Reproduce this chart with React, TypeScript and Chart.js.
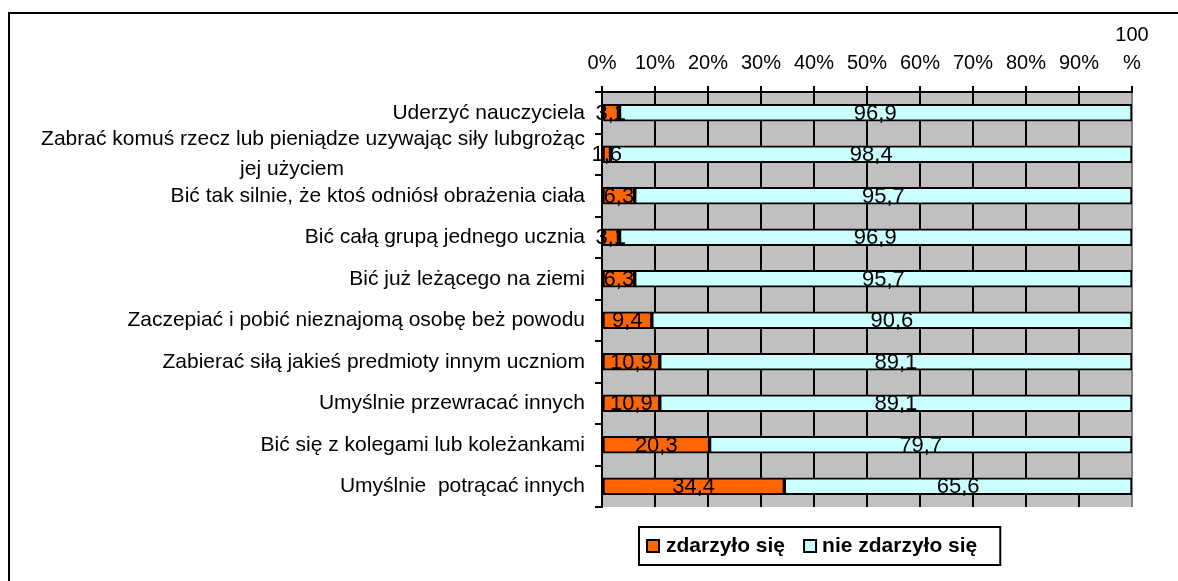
import React, { useEffect, useRef } from "react";
import { Chart, registerables } from "chart.js";

Chart.register(...registerables);

const categories: (string | string[])[] = [
  "Uderzyć nauczyciela",
  ["Zabrać komuś rzecz lub pieniądze uzywając siły lubgrożąc", "jej użyciem"],
  "Bić tak silnie, że ktoś odniósł obrażenia ciała",
  "Bić całą grupą jednego ucznia",
  "Bić już leżącego na ziemi",
  "Zaczepiać i pobić nieznajomą osobę beż powodu",
  "Zabierać siłą jakieś predmioty innym uczniom",
  "Umyślnie przewracać innych",
  "Bić się z kolegami lub koleżankami",
  "Umyślnie  potrącać innych",
];

const happened = [3.1, 1.6, 6.3, 3.1, 6.3, 9.4, 10.9, 10.9, 20.3, 34.4];
const notHappened = [96.9, 98.4, 95.7, 96.9, 95.7, 90.6, 89.1, 89.1, 79.7, 65.6];

const seriesNames = ["zdarzyło się", "nie zdarzyło się"];
const seriesColors = ["#FF6600", "#CCFFFF"];

const xTicks = [0, 10, 20, 30, 40, 50, 60, 70, 80, 90, 100];

const FONT = "'Liberation Sans', Arial, sans-serif";

const fmt = (v: number) => v.toFixed(1).replace(".", ",");

const bgPlugin = {
  id: "plotBg",
  beforeDraw(chart: any) {
    const { ctx, chartArea } = chart;
    ctx.save();
    ctx.fillStyle = "#C0C0C0";
    ctx.fillRect(chartArea.left, chartArea.top, chartArea.right - chartArea.left, chartArea.bottom - chartArea.top);
    ctx.restore();
  },
};

const rawSeries = [happened, notHappened];

const dataLabelPlugin = {
  id: "dataLabels",
  afterDatasetsDraw(chart: any) {
    const { ctx } = chart;
    ctx.save();
    ctx.font = `22px ${FONT}`;
    ctx.fillStyle = "#000";
    ctx.textAlign = "center";
    ctx.textBaseline = "middle";
    chart.data.datasets.forEach((_: any, di: number) => {
      const meta = chart.getDatasetMeta(di);
      meta.data.forEach((el: any, j: number) => {
        const p = el.getProps(["x", "y", "base"], true);
        const cx = (p.x + p.base) / 2;
        ctx.fillText(fmt(rawSeries[di][j]), cx, p.y + 1);
      });
    });
    ctx.restore();
  },
};

const yLabelPlugin = {
  id: "yLabels",
  afterDraw(chart: any) {
    const { ctx } = chart;
    const yScale = chart.scales.y;
    const right = yScale.left - 10;
    ctx.save();
    ctx.font = `21px ${FONT}`;
    ctx.fillStyle = "#000";
    ctx.textBaseline = "middle";
    const lineH = 30;
    categories.forEach((lab, i) => {
      const y = yScale.getPixelForValue(i);
      const lines = Array.isArray(lab) ? lab : [lab];
      const w0 = ctx.measureText(lines[0]).width;
      const center0 = right - w0 / 2 - 21;
      lines.forEach((ln, k) => {
        const ly = y + (k - (lines.length - 1) / 2) * lineH;
        if (k === 0) {
          ctx.textAlign = "right";
          ctx.fillText(ln, right, ly);
        } else {
          ctx.textAlign = "center";
          ctx.fillText(ln, center0, ly);
        }
      });
    });
    ctx.restore();
  },
};

const legendPlugin = {
  id: "boxLegend",
  afterDraw(chart: any) {
    const { ctx } = chart;
    ctx.save();
    ctx.font = `bold 21px ${FONT}`;
    const w1 = ctx.measureText(seriesNames[0]).width;
    const w2 = ctx.measureText(seriesNames[1]).width;
    const sq = 12;
    const total = 8 + sq + 7 + w1 + 19 + sq + 6 + w2 + 23;
    const cxBox = 820;
    const left = Math.round(cxBox - total / 2);
    const top = 527;
    const h = 38;
    const midY = top + h / 2;
    ctx.lineWidth = 2;
    ctx.strokeStyle = "#000";
    ctx.strokeRect(left, top, total, h);
    let x = left + 8;
    const drawItem = (i: number, w: number, gapAfterSq: number) => {
      ctx.fillStyle = seriesColors[i];
      ctx.fillRect(x, midY - sq / 2, sq, sq);
      ctx.lineWidth = 2;
      ctx.strokeStyle = "#000";
      ctx.strokeRect(x, midY - sq / 2, sq, sq);
      x += sq + gapAfterSq;
      ctx.fillStyle = "#000";
      ctx.textAlign = "left";
      ctx.textBaseline = "middle";
      ctx.fillText(seriesNames[i], x, midY);
      x += w;
    };
    drawItem(0, w1, 7);
    x += 19;
    drawItem(1, w2, 6);
    ctx.restore();
  },
};

export default function App() {
  const canvasRef = useRef<HTMLCanvasElement | null>(null);

  useEffect(() => {
    if (!canvasRef.current) return;
    Chart.defaults.font.family = FONT;
    Chart.defaults.color = "#000";
    const datasets = [happened, notHappened].map((arr, di) => ({
      label: seriesNames[di],
      data: arr.map((v, j) => (v / (happened[j] + notHappened[j])) * 100),
      backgroundColor: seriesColors[di],
      borderColor: "#000",
      borderWidth: 2,
      borderSkipped: false as any,
      barThickness: 17,
    }));
    const chart = new Chart(canvasRef.current, {
      type: "bar",
      data: {
        labels: categories.map((c) => (Array.isArray(c) ? c.join(" ") : c)),
        datasets,
      },
      plugins: [bgPlugin, dataLabelPlugin, yLabelPlugin, legendPlugin],
      options: {
        indexAxis: "y",
        animation: false,
        responsive: false,
        layout: { padding: { left: 595, right: 46, top: 0, bottom: 74 } },
        plugins: {
          legend: { display: false },
          tooltip: { enabled: false },
        },
        scales: {
          x: {
            position: "top",
            stacked: true,
            min: 0,
            max: 100,
            afterBuildTicks: (scale: any) => {
              scale.ticks = xTicks.map((v) => ({ value: v }));
            },
            afterFit: (scale: any) => {
              scale.height = 92;
            },
            ticks: {
              font: { size: 20, lineHeight: 1.4 },
              color: "#000",
              padding: 9,
              maxRotation: 0,
              autoSkip: false,
              callback: (v: any) => (Number(v) === 100 ? ["100", "%"] : `${v}%`),
            },
            grid: {
              color: (c: any) => (c.tick && c.tick.value === 100 ? "#808080" : "#000"),
              lineWidth: 2,
              drawTicks: true,
              tickLength: 6,
              tickColor: "#000",
            },
            border: { display: true, color: "#000", width: 2 },
          },
          y: {
            stacked: true,
            ticks: { display: false },
            grid: {
              drawOnChartArea: false,
              drawTicks: true,
              tickLength: 7,
              color: "#000",
              lineWidth: 2,
            },
            border: { display: true, color: "#000", width: 2 },
          },
        },
      },
    } as any);
    return () => chart.destroy();
  }, []);

  return (
    <div style={{ position: "absolute", left: 0, top: 0, width: 1178, height: 581, overflow: "hidden", background: "#fff" }}>
      <div
        style={{
          position: "absolute",
          left: 8,
          top: 12,
          width: 1200,
          height: 620,
          borderTop: "2px solid #000",
          borderLeft: "2px solid #000",
        }}
      />
      <canvas
        ref={canvasRef}
        width={1178}
        height={581}
        style={{ position: "absolute", left: 0, top: 0, display: "block" }}
      />
    </div>
  );
}
